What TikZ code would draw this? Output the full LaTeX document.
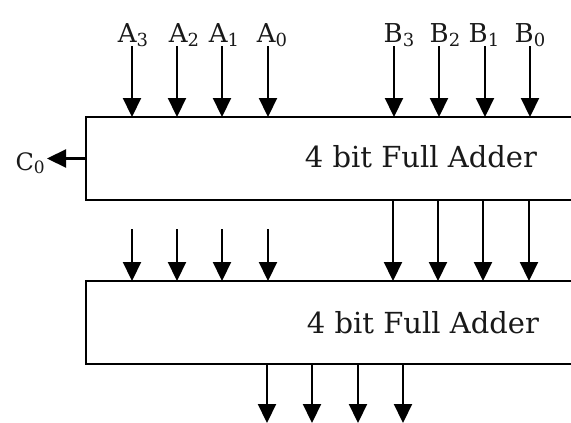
\documentclass[tikz,border=0pt]{standalone}
\usepackage{fontspec}
\setmainfont{DejaVu Serif}
\usetikzlibrary{arrows.meta}

% signal name with a lowered index digit
\newcommand{\signame}[2]{#1\raisebox{-4pt}{\fontsize{18}{20}\selectfont #2}}

\begin{document}
\begin{tikzpicture}[x=1pt,y=-1pt,
  adder/.style={draw, line width=2.4pt, minimum width=560pt, minimum height=83pt,
                anchor=north west, inner sep=0pt, outer sep=0pt},
  sig/.style={line width=2.2pt, -{Triangle[length=19pt,width=18pt]}},
  siglabel/.style={anchor=base, inner sep=0pt, font=\fontsize{26}{30}\selectfont, text=black!90},
  boxtext/.style={inner sep=0pt, font=\fontsize{29}{34}\selectfont, text=black!90}
]
\useasboundingbox (0,0) rectangle (571,423);
\clip (0,0) rectangle (571,423);

% the two adder blocks (their right ends run past the frame)
\node[adder] (fa1) at (86,117) {};
\node[adder] (fa2) at (86,281) {};
\node[boxtext] (t1) at (421,157) {4 bit Full Adder};
\node[boxtext] (t2) at (423,323) {4 bit Full Adder};

% input labels and their arrows into the first adder
\foreach \i/\x in {3/133,2/184,1/224,0/272} {
  \node[siglabel] (la\i) at (\x,42) {\signame{A}{\i}};
}
\foreach \i/\x in {3/132,2/177,1/222,0/268} {
  \coordinate (ia\i) at (\x,46);
  \draw[sig] (ia\i) -- (ia\i |- fa1.north);
}
\foreach \i/\x in {3/399,2/445,1/484,0/530} {
  \node[siglabel] (lb\i) at (\x,42) {\signame{B}{\i}};
}
\foreach \i/\x in {3/394,2/439,1/485,0/530} {
  \coordinate (ib\i) at (\x,46);
  \draw[sig] (ib\i) -- (ib\i |- fa1.north);
}

% carry out of the first adder
\coordinate (c0) at (47,158.5);
\draw[sig] (fa1.west) -- (c0);
\node[anchor=east, inner sep=0pt, font=\fontsize{24}{28}\selectfont, text=black!90] (lc0) at (45,163) {C\raisebox{-3.5pt}{\fontsize{17}{19}\selectfont 0}};

% second adder: free inputs on the left, sum bits from the first adder on the right
\foreach \x [count=\k] in {132,177,222,268} {
  \coordinate (ma\k) at (\x,229);
  \draw[sig] (ma\k) -- (ma\k |- fa2.north);
}
\foreach \x [count=\k] in {393,438,483,529} {
  \coordinate (mb\k) at (\x,0);
  \draw[sig] (mb\k |- fa1.south) -- (mb\k |- fa2.north);
}

% outputs of the second adder
\foreach \x [count=\k] in {267,312,358,403} {
  \coordinate (o\k) at (\x,423);
  \draw[sig] (o\k |- fa2.south) -- (o\k);
}
\end{tikzpicture}
\end{document}
